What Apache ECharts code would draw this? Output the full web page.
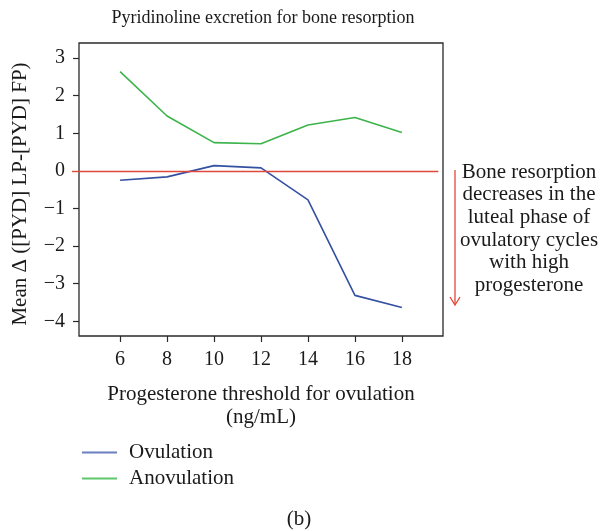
<!DOCTYPE html>
<html><head><meta charset="utf-8">
<script src="https://cdn.jsdelivr.net/npm/echarts@6/dist/echarts.min.js"></script>
<style>html,body{margin:0;padding:0;background:#fff}#c{width:600px;height:531px}</style>
</head><body><div id="c"></div>
<script>
const thresholds = [6, 8, 10, 12, 14, 16, 18];
const ovulation = [-0.25, -0.16, 0.14, 0.08, -0.77, -3.31, -3.63];
const anovulation = [2.64, 1.46, 0.75, 0.72, 1.22, 1.42, 1.02];
const referenceLevel = 0;
const yTicks = [-4, -3, -2, -1, 0, 1, 2, 3];
const xTicks = [6, 8, 10, 12, 14, 16, 18];
const annotation = ['Bone resorption', 'decreases in the', 'luteal phase of', 'ovulatory cycles', 'with high', 'progesterone'];

const X_MIN = 4.25, X_MAX = 19.75, Y_MIN = -4.39, Y_MAX = 3.4;
const FONT = 'Liberation Serif';
const TXT = '#1a1a1a';
const RED = '#e0483a';
const chart = echarts.init(document.getElementById('c'));
chart.setOption({
  animation: false,
  backgroundColor: '#fff',
  grid: {left: 79, top: 43, width: 364, height: 293, show: true, borderColor: '#2a2a2a', borderWidth: 1.3, backgroundColor: 'transparent'},
  xAxis: {
    type: 'value', min: X_MIN, max: X_MAX,
    axisLine: {show: false, onZero: false},
    splitLine: {show: false},
    axisTick: {show: true, customValues: xTicks, length: 6, inside: false, lineStyle: {color: '#2a2a2a', width: 1.2}},
    axisLabel: {customValues: xTicks, margin: 14, fontFamily: FONT, fontSize: 20, color: TXT},
    name: 'Progesterone threshold for ovulation\n(ng/mL)',
    nameLocation: 'middle', nameGap: 47,
    nameTextStyle: {fontFamily: FONT, fontSize: 21, color: TXT, lineHeight: 23, verticalAlign: 'top'}
  },
  yAxis: [{
    type: 'value', min: Y_MIN, max: Y_MAX,
    axisLine: {show: false, onZero: false},
    splitLine: {show: false},
    axisTick: {show: true, customValues: yTicks.filter(v => v !== referenceLevel), length: 6, lineStyle: {color: '#2a2a2a', width: 1.2}},
    axisLabel: {customValues: yTicks, margin: 14, fontFamily: FONT, fontSize: 20, color: TXT,
      formatter: v => (v < 0 ? '\u2212' + Math.abs(v) : String(v))}
  }, {
    type: 'value', min: Y_MIN, max: Y_MAX, position: 'left',
    axisLine: {show: false, onZero: false},
    splitLine: {show: false},
    axisLabel: {show: false},
    axisTick: {show: true, customValues: [referenceLevel], length: 7, lineStyle: {color: RED, width: 1.4}}
  }],
  legend: {
    orient: 'vertical', left: 77, top: 437, itemGap: 5,
    itemWidth: 35, itemHeight: 2, icon: 'rect',
    itemStyle: {borderWidth: 0},
    textStyle: {fontFamily: FONT, fontSize: 21, color: TXT, padding: [0, 0, 0, 7]},
    data: ['Ovulation', 'Anovulation']
  },
  series: [
    {
      name: 'Ovulation', type: 'line', symbol: 'none',
      data: thresholds.map((x, i) => [x, ovulation[i]]),
      lineStyle: {color: '#3450a2', width: 1.6}, itemStyle: {color: '#6a80c0'},
      markLine: {
        silent: true, symbol: 'none', label: {show: false},
        lineStyle: {color: RED, width: 1.4, type: 'solid'},
        data: [[{coord: [X_MIN, referenceLevel]}, {coord: [19.55, referenceLevel]}]]
      }
    },
    {
      name: 'Anovulation', type: 'line', symbol: 'none',
      data: thresholds.map((x, i) => [x, anovulation[i]]),
      lineStyle: {color: '#3cb44b', width: 1.6}, itemStyle: {color: '#5cc86a'}
    }
  ],
  graphic: [
    {type: 'text', x: 263, y: 18,
      style: {text: 'Pyridinoline excretion for bone resorption', textAlign: 'center', textVerticalAlign: 'middle', fontFamily: FONT, fontSize: 18, fill: TXT}},
    {type: 'text', x: 20, y: 194, rotation: Math.PI / 2,
      style: {text: 'Mean \u0394 ([PYD] LP-[PYD] FP)', textAlign: 'center', textVerticalAlign: 'middle', fontFamily: FONT, fontSize: 21, fill: TXT}},
    {type: 'line', shape: {x1: 455, y1: 170, x2: 455, y2: 305}, style: {stroke: RED, lineWidth: 1.3}},
    {type: 'polyline', shape: {points: [[450, 297], [455, 305], [460, 297]]}, style: {stroke: RED, lineWidth: 1.3, fill: null}},
    {type: 'text', x: 529, y: 161,
      style: {text: annotation.join('\n'), textAlign: 'center', fontFamily: FONT, fontSize: 21, lineHeight: 22.6, fill: TXT}},
    {type: 'text', x: 299, y: 519,
      style: {text: '(b)', textAlign: 'center', textVerticalAlign: 'middle', fontFamily: FONT, fontSize: 21, fill: TXT}}
  ]
});
</script></body></html>
